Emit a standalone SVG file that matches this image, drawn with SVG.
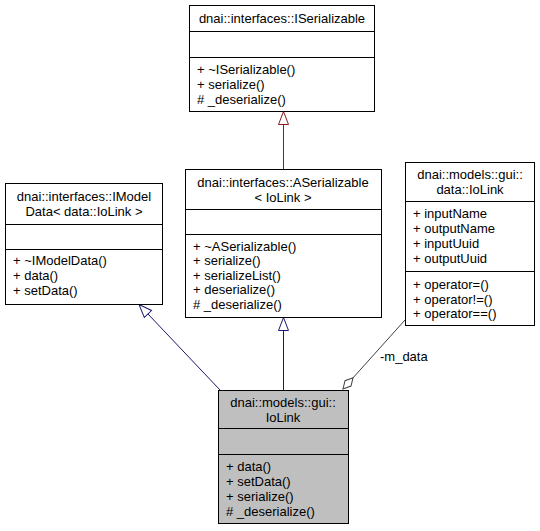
<svg xmlns="http://www.w3.org/2000/svg" width="540" height="531" viewBox="0 0 540 531">
<style>
text{font-family:"Liberation Sans",Arial,sans-serif;font-size:13px;fill:#000}
.t{text-anchor:middle}
.box{fill:#fff;stroke:#000;stroke-width:1}
.cur{fill:#bfbfbf;stroke:#000;stroke-width:1}
.sep{stroke:#000;stroke-width:1}
.pub{stroke:#191970;stroke-width:1;fill:none}
.priv{stroke:#8b1a1a;stroke-width:1;fill:none}
.use{stroke:#404040;stroke-width:1;fill:none}
</style>
<defs>
<marker id="triBlue" markerUnits="userSpaceOnUse" viewBox="0 0 13 10" refX="13" refY="5" markerWidth="13" markerHeight="10" orient="auto" style="overflow:visible"><path d="M0,0 L13,5 L0,10 z" fill="#fff" stroke="#191970"/></marker>
<marker id="triRed" markerUnits="userSpaceOnUse" viewBox="0 0 13 10" refX="13" refY="5" markerWidth="13" markerHeight="10" orient="auto" style="overflow:visible"><path d="M0,0 L13,5 L0,10 z" fill="#fff" stroke="#8b1a1a"/></marker>
<marker id="dia" markerUnits="userSpaceOnUse" viewBox="0 0 15 8" refX="15" refY="4" markerWidth="15" markerHeight="8" orient="auto" style="overflow:visible"><path d="M0,4 L7.5,0 L15,4 L7.5,8 z" fill="#fff" stroke="#404040"/></marker>
</defs>
<g id="connectors">
<line class="priv" x1="283.5" y1="169" x2="283.5" y2="111.5" marker-end="url(#triRed)"/>
<line class="pub" x1="283.5" y1="390" x2="283.5" y2="317.5" marker-end="url(#triBlue)"/>
<line class="pub" x1="220" y1="390" x2="139" y2="304.5" marker-end="url(#triBlue)"/>
<line class="use" x1="405" y1="320" x2="343" y2="389" marker-end="url(#dia)"/>
<text x="380" y="361">-m_data</text>
</g>
<g id="ISerializable">
<rect class="box" x="189.5" y="5.5" width="185" height="106"/>
<line class="sep" x1="189.5" y1="31.5" x2="374.5" y2="31.5"/>
<line class="sep" x1="189.5" y1="57.5" x2="374.5" y2="57.5"/>
<text class="t" x="282" y="23">dnai::interfaces::ISerializable</text>
<text x="197" y="74">+ ~ISerializable()</text>
<text x="197" y="89">+ serialize()</text>
<text x="197" y="104"># _deserialize()</text>
</g>
<g id="IModelData">
<rect class="box" x="5.5" y="183.5" width="157" height="121"/>
<line class="sep" x1="5.5" y1="224.5" x2="162.5" y2="224.5"/>
<line class="sep" x1="5.5" y1="249.5" x2="162.5" y2="249.5"/>
<text class="t" x="84" y="201">dnai::interfaces::IModel</text>
<text class="t" x="84" y="216">Data&lt; data::IoLink &gt;</text>
<text x="13" y="265">+ ~IModelData()</text>
<text x="13" y="280">+ data()</text>
<text x="13" y="295">+ setData()</text>
</g>
<g id="ASerializable">
<rect class="box" x="185.5" y="169.5" width="196" height="148"/>
<line class="sep" x1="185.5" y1="209.5" x2="381.5" y2="209.5"/>
<line class="sep" x1="185.5" y1="234.5" x2="381.5" y2="234.5"/>
<text class="t" x="283" y="187">dnai::interfaces::ASerializable</text>
<text class="t" x="283" y="202">&lt; IoLink &gt;</text>
<text x="193" y="251">+ ~ASerializable()</text>
<text x="193" y="265">+ serialize()</text>
<text x="193" y="280">+ serializeList()</text>
<text x="193" y="294">+ deserialize()</text>
<text x="193" y="309"># _deserialize()</text>
</g>
<g id="DataIoLink">
<rect class="box" x="405.5" y="162.5" width="129" height="163"/>
<line class="sep" x1="405.5" y1="201.5" x2="534.5" y2="201.5"/>
<line class="sep" x1="405.5" y1="271.5" x2="534.5" y2="271.5"/>
<text class="t" x="470" y="179">dnai::models::gui::</text>
<text class="t" x="470" y="194">data::IoLink</text>
<text x="413" y="218">+ inputName</text>
<text x="413" y="233">+ outputName</text>
<text x="413" y="248">+ inputUuid</text>
<text x="413" y="263">+ outputUuid</text>
<text x="413" y="289">+ operator=()</text>
<text x="413" y="304">+ operator!=()</text>
<text x="413" y="318">+ operator==()</text>
</g>
<g id="IoLink">
<rect class="cur" x="218.5" y="390.5" width="130" height="133"/>
<line class="sep" x1="218.5" y1="428.5" x2="348.5" y2="428.5"/>
<line class="sep" x1="218.5" y1="454.5" x2="348.5" y2="454.5"/>
<text class="t" x="283" y="407">dnai::models::gui::</text>
<text class="t" x="283" y="422">IoLink</text>
<text x="226" y="471">+ data()</text>
<text x="226" y="486">+ setData()</text>
<text x="226" y="501">+ serialize()</text>
<text x="226" y="516"># _deserialize()</text>
</g>
</svg>
